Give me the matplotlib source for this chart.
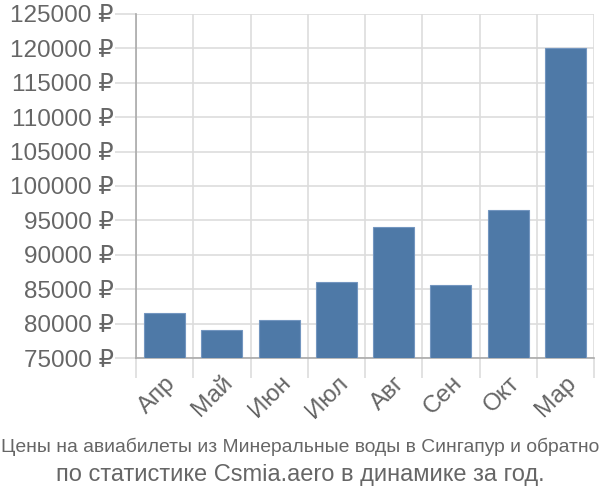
import matplotlib
matplotlib.use("Agg")
import matplotlib.pyplot as plt
import numpy as np

months = ["Апр", "Май", "Июн", "Июл", "Авг", "Сен", "Окт", "Мар"]
prices = [81500, 79000, 80500, 86000, 94100, 85600, 96500, 120000]
y_ticks = list(range(75000, 125001, 5000))
caption_1 = "Цены на авиабилеты из Минеральные воды в Сингапур и обратно"
caption_2 = "по статистике Csmia.aero в динамике за год."

plt.rcParams['font.family'] = ['Liberation Sans', 'DejaVu Sans']
text_color = '#666666'
grid_color = '#dddddd'
axis_color = '#aaaaaa'

fig = plt.figure(figsize=(6, 5), dpi=100)
ax = fig.add_axes([136 / 600, 1 - 358 / 500, (594 - 136) / 600, (358 - 14) / 500])

x = np.arange(len(months))
ax.bar(x, prices, width=0.72, color='#4e79a7', edgecolor='#7396c0', linewidth=0.8, zorder=3)

ax.set_xlim(-0.5, len(months) - 0.5)
ax.set_ylim(y_ticks[0], y_ticks[-1])
ax.set_yticks(y_ticks)
ax.set_yticklabels([f"{v} ₽" for v in y_ticks], fontsize=17.5, color=text_color)
ax.set_xticks(x)
ax.set_xticklabels(months, rotation=45, ha='right', rotation_mode='anchor', fontsize=17.5, color=text_color)
ax.set_xticks(np.arange(-0.5, len(months)), minor=True)

ax.tick_params(axis='x', which='major', length=0, pad=10)
ax.tick_params(axis='x', which='minor', length=14.5, color=grid_color, width=1.2)
ax.tick_params(axis='y', length=15, color=grid_color, width=1.2, pad=1)

ax.grid(axis='y', color=grid_color, linewidth=1.2, zorder=0)
ax.grid(axis='x', which='minor', color=grid_color, linewidth=1.2, zorder=0)

for side in ['top', 'right']:
    ax.spines[side].set_visible(False)
for side in ['left', 'bottom']:
    ax.spines[side].set_color(axis_color)
    ax.spines[side].set_linewidth(1.2)

fig.text(0.5, 1 - 447 / 500, caption_1, ha='center', va='center', fontsize=13.9, color=text_color)
fig.text(0.5, 1 - 475 / 500, caption_2, ha='center', va='center', fontsize=17, color=text_color)

fig.savefig("out.png", dpi=100)
